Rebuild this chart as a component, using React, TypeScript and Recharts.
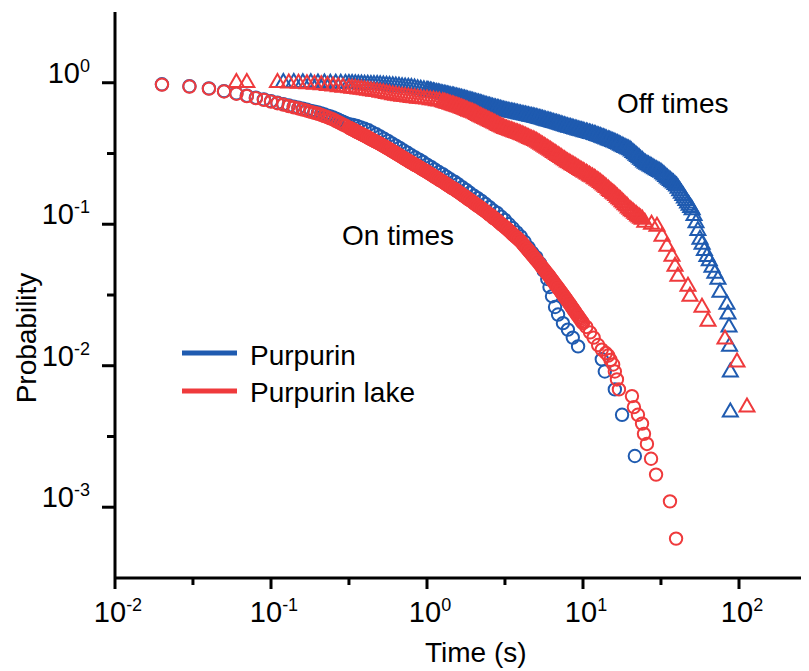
import React from 'react';
import { ScatterChart, Scatter, XAxis, YAxis, Customized } from 'recharts';

const FONT = '"Liberation Sans", Arial, Helvetica, sans-serif';
const BLUE = '#1f5bb0';
const RED = '#ef3a3c';

// [time (s), probability]
const purpurinOn: [number, number][] = [
  [0.02, 0.975], [0.03, 0.945], [0.04, 0.913], [0.05, 0.872], [0.06, 0.841], [0.07, 0.81], [0.08, 0.784],
  [0.09, 0.763], [0.1, 0.741], [0.11, 0.722], [0.12, 0.706], [0.13, 0.691], [0.14, 0.677], [0.15, 0.666],
  [0.16, 0.655], [0.17, 0.644], [0.18, 0.633], [0.19, 0.624], [0.2, 0.616], [0.21, 0.606], [0.22, 0.596],
  [0.23, 0.586], [0.24, 0.577], [0.25, 0.569], [0.26, 0.557], [0.27, 0.547], [0.28, 0.537], [0.29, 0.528],
  [0.3, 0.52], [0.316, 0.51], [0.335, 0.503], [0.355, 0.495], [0.376, 0.484], [0.398, 0.473], [0.422, 0.461],
  [0.447, 0.445], [0.473, 0.432], [0.501, 0.417], [0.531, 0.402], [0.562, 0.388], [0.596, 0.373], [0.631, 0.359],
  [0.668, 0.346], [0.708, 0.332], [0.75, 0.32], [0.794, 0.307], [0.841, 0.296], [0.891, 0.286], [0.944, 0.275],
  [1.0, 0.264], [1.06, 0.254], [1.12, 0.244], [1.19, 0.234], [1.26, 0.226], [1.33, 0.217], [1.41, 0.208],
  [1.5, 0.2], [1.58, 0.192], [1.68, 0.183], [1.78, 0.175], [1.88, 0.167], [2.0, 0.159], [2.11, 0.153],
  [2.24, 0.146], [2.37, 0.139], [2.51, 0.132], [2.66, 0.125], [2.82, 0.12], [2.99, 0.113], [3.16, 0.107],
  [3.35, 0.1], [3.55, 0.0936], [3.76, 0.0876], [3.98, 0.082], [4.22, 0.0752], [4.47, 0.0686], [4.73, 0.0629],
  [5.01, 0.0585], [5.3, 0.053], [5.6, 0.047], [5.9, 0.041], [6.1, 0.036], [6.33, 0.031], [6.62, 0.026],
  [6.92, 0.023], [7.44, 0.02], [8.0, 0.018], [8.6, 0.0158], [9.3, 0.0137], [13.2, 0.0111], [13.8, 0.0091],
  [16.0, 0.0068], [17.8, 0.0045], [21.5, 0.0023],
];

const lakeOn: [number, number][] = [
  [0.02, 0.97], [0.03, 0.94], [0.04, 0.908], [0.05, 0.867], [0.06, 0.836], [0.07, 0.805], [0.08, 0.778],
  [0.09, 0.757], [0.1, 0.735], [0.11, 0.716], [0.12, 0.7], [0.13, 0.684], [0.14, 0.67], [0.15, 0.658],
  [0.16, 0.646], [0.17, 0.634], [0.18, 0.622], [0.19, 0.612], [0.2, 0.603], [0.21, 0.592], [0.22, 0.581],
  [0.23, 0.57], [0.24, 0.56], [0.25, 0.551], [0.26, 0.538], [0.27, 0.527], [0.28, 0.516], [0.29, 0.506],
  [0.3, 0.497], [0.316, 0.481], [0.326, 0.473], [0.335, 0.466], [0.345, 0.458], [0.355, 0.45], [0.365, 0.443],
  [0.376, 0.436], [0.387, 0.429], [0.398, 0.422], [0.41, 0.415], [0.422, 0.408], [0.434, 0.401], [0.447, 0.394],
  [0.46, 0.388], [0.473, 0.382], [0.487, 0.375], [0.501, 0.369], [0.516, 0.362], [0.531, 0.356], [0.546, 0.349],
  [0.562, 0.343], [0.579, 0.337], [0.596, 0.33], [0.613, 0.324], [0.631, 0.318], [0.649, 0.312], [0.668, 0.306],
  [0.688, 0.3], [0.708, 0.294], [0.729, 0.288], [0.75, 0.283], [0.772, 0.277], [0.794, 0.272], [0.818, 0.267],
  [0.841, 0.262], [0.866, 0.258], [0.891, 0.253], [0.917, 0.248], [0.944, 0.243], [0.972, 0.239], [1.0, 0.234],
  [1.03, 0.23], [1.06, 0.225], [1.09, 0.221], [1.12, 0.216], [1.16, 0.212], [1.19, 0.207], [1.22, 0.204],
  [1.26, 0.2], [1.3, 0.195], [1.33, 0.192], [1.37, 0.188], [1.41, 0.184], [1.45, 0.18], [1.5, 0.177],
  [1.54, 0.173], [1.58, 0.17], [1.63, 0.166], [1.68, 0.162], [1.73, 0.158], [1.78, 0.155], [1.83, 0.151],
  [1.88, 0.148], [1.94, 0.145], [2.0, 0.141], [2.05, 0.138], [2.11, 0.135], [2.18, 0.132], [2.24, 0.129],
  [2.3, 0.126], [2.37, 0.123], [2.44, 0.12], [2.51, 0.117], [2.59, 0.115], [2.66, 0.111], [2.74, 0.109],
  [2.82, 0.106], [2.9, 0.103], [2.99, 0.1], [3.07, 0.098], [3.16, 0.0955], [3.26, 0.0927], [3.35, 0.0902],
  [3.45, 0.0876], [3.55, 0.0851], [3.65, 0.0826], [3.76, 0.0804], [3.87, 0.078], [3.98, 0.0759], [4.1, 0.0731],
  [4.22, 0.0703], [4.34, 0.0678], [4.47, 0.0653], [4.6, 0.063], [4.73, 0.0605], [4.87, 0.0583], [5.01, 0.0562],
  [5.16, 0.054], [5.31, 0.0519], [5.46, 0.0498], [5.62, 0.0479], [5.79, 0.0459], [5.96, 0.0442], [6.13, 0.0424],
  [6.31, 0.0407], [6.49, 0.039], [6.68, 0.0373], [6.88, 0.0358], [7.08, 0.0343], [7.29, 0.0328], [7.5, 0.0314],
  [7.72, 0.0301], [7.94, 0.0288], [8.18, 0.0275], [8.41, 0.0263], [8.66, 0.0251], [8.91, 0.024], [9.17, 0.0229],
  [9.44, 0.0219], [9.72, 0.0209], [10.0, 0.02], [10.5, 0.0188], [11.1, 0.0172], [11.7, 0.0158], [12.5, 0.014],
  [13.2, 0.013], [14.0, 0.0123], [14.5, 0.0118], [15.0, 0.011], [15.6, 0.0102], [16.0, 0.0091], [16.5, 0.008],
  [17.0, 0.0068], [20.6, 0.0061], [21.2, 0.0051], [22.5, 0.0045], [23.9, 0.0039], [24.6, 0.0033], [25.7, 0.0028],
  [27.3, 0.0022], [29.4, 0.0017], [36.1, 0.0011], [39.5, 0.0006],
];

// extra events inside the solid part of the Purpurin lake "on" band
const lakeOnDense: [number, number][] = [
  [0.321, 0.477], [0.33, 0.47], [0.34, 0.462], [0.35, 0.454], [0.36, 0.447], [0.37, 0.44], [0.381, 0.433],
  [0.392, 0.426], [0.404, 0.419], [0.416, 0.412], [0.428, 0.405], [0.44, 0.398], [0.453, 0.391], [0.466, 0.385],
  [0.48, 0.379], [0.494, 0.372], [0.508, 0.366], [0.523, 0.359], [0.538, 0.353], [0.554, 0.346], [0.57, 0.34],
  [0.587, 0.334], [0.604, 0.327], [0.622, 0.321], [0.64, 0.315], [0.658, 0.309], [0.678, 0.303], [0.698, 0.297],
  [0.718, 0.291], [0.739, 0.286], [0.761, 0.28], [0.783, 0.275], [0.806, 0.27], [0.829, 0.265], [0.853, 0.26],
  [0.878, 0.256], [0.904, 0.251], [0.93, 0.246], [0.958, 0.241], [0.986, 0.237], [1.015, 0.232], [1.045, 0.228],
  [1.075, 0.223], [1.105, 0.219], [1.14, 0.214], [1.175, 0.21], [1.205, 0.206], [1.24, 0.202], [1.28, 0.198],
  [1.315, 0.194], [1.35, 0.19], [1.39, 0.186], [1.43, 0.182], [1.475, 0.179], [1.52, 0.175], [1.56, 0.172],
  [1.605, 0.168], [1.655, 0.164], [1.705, 0.16], [1.755, 0.157], [1.805, 0.153], [1.855, 0.15], [1.91, 0.147],
  [1.97, 0.143], [2.025, 0.14], [2.08, 0.137], [2.145, 0.134], [2.21, 0.131], [2.27, 0.128], [2.335, 0.125],
  [2.405, 0.122], [2.475, 0.119], [2.55, 0.116], [2.625, 0.113], [2.7, 0.11], [2.78, 0.108], [2.86, 0.105],
  [2.945, 0.102], [3.03, 0.099], [3.115, 0.0968], [3.21, 0.0941], [3.305, 0.0915], [3.4, 0.0889], [3.5, 0.0863],
  [3.6, 0.0838], [3.705, 0.0815], [3.815, 0.0792], [3.925, 0.0769], [4.04, 0.0745], [4.16, 0.0717], [4.28, 0.069],
  [4.405, 0.0665], [4.535, 0.0641], [4.665, 0.0617], [4.8, 0.0594], [4.94, 0.0572], [5.085, 0.0551], [5.235, 0.0529],
  [5.385, 0.0508], [5.54, 0.0488], [5.705, 0.0469], [5.875, 0.045], [6.045, 0.0433], [6.22, 0.0415], [6.4, 0.0398],
  [6.585, 0.0381], [6.78, 0.0365], [6.98, 0.035], [7.185, 0.0335], [7.395, 0.0321], [7.61, 0.0307], [7.83, 0.0294],
  [8.06, 0.0281], [8.295, 0.0269], [8.535, 0.0257], [8.785, 0.0245], [9.04, 0.0234], [9.305, 0.0224], [9.58, 0.0214],
  [9.86, 0.0204],
];

const purpurinOff: [number, number][] = [
  [0.12, 1.0], [0.14, 1.0], [0.16, 0.998], [0.18, 0.996], [0.2, 0.995], [0.22, 0.993], [0.24, 0.991],
  [0.26, 0.99], [0.28, 0.988], [0.3, 0.987], [0.316, 0.986], [0.331, 0.984], [0.347, 0.982], [0.363, 0.979],
  [0.38, 0.977], [0.398, 0.975], [0.417, 0.973], [0.437, 0.971], [0.457, 0.97], [0.479, 0.968], [0.501, 0.966],
  [0.525, 0.962], [0.55, 0.959], [0.575, 0.955], [0.603, 0.951], [0.631, 0.946], [0.661, 0.942], [0.692, 0.936],
  [0.724, 0.931], [0.759, 0.927], [0.794, 0.923], [0.832, 0.914], [0.871, 0.906], [0.912, 0.897], [0.955, 0.889],
  [1.0, 0.881], [1.05, 0.871], [1.1, 0.861], [1.15, 0.851], [1.2, 0.841], [1.26, 0.832], [1.32, 0.822],
  [1.38, 0.813], [1.45, 0.804], [1.51, 0.794], [1.58, 0.785], [1.66, 0.774], [1.74, 0.764], [1.82, 0.753],
  [1.91, 0.743], [2.0, 0.733], [2.09, 0.721], [2.19, 0.711], [2.29, 0.7], [2.4, 0.69], [2.51, 0.679],
  [2.63, 0.67], [2.75, 0.661], [2.88, 0.652], [3.02, 0.643], [3.16, 0.634], [3.31, 0.627], [3.47, 0.619],
  [3.63, 0.614], [3.8, 0.607], [3.98, 0.6], [4.17, 0.593], [4.37, 0.586], [4.57, 0.579], [4.79, 0.573],
  [5.01, 0.566], [5.25, 0.558], [5.5, 0.551], [5.75, 0.542], [6.03, 0.535], [6.31, 0.527], [6.61, 0.519],
  [6.92, 0.511], [7.24, 0.504], [7.59, 0.495], [7.94, 0.488], [8.32, 0.481], [8.71, 0.474], [9.12, 0.467],
  [9.55, 0.46], [10.0, 0.454], [10.5, 0.447], [11.0, 0.44], [11.5, 0.434], [12.0, 0.427], [12.6, 0.42],
  [13.2, 0.411], [13.8, 0.404], [14.5, 0.395], [15.1, 0.388], [15.8, 0.38], [16.6, 0.371], [17.4, 0.361],
  [18.2, 0.352], [19.1, 0.344], [20.0, 0.335], [20.9, 0.321], [21.9, 0.307], [22.9, 0.294], [24.0, 0.281],
  [25.1, 0.269], [26.3, 0.261], [27.5, 0.254], [28.8, 0.246], [30.2, 0.239], [31.6, 0.232], [33.1, 0.222],
  [34.7, 0.212], [36.3, 0.203], [38.0, 0.195], [39.8, 0.186], [41.7, 0.172], [43.7, 0.159], [45.7, 0.147],
  [47.9, 0.136], [50.1, 0.126], [51.5, 0.115], [53.0, 0.102], [54.5, 0.09], [56.2, 0.078], [58.0, 0.072],
  [60.0, 0.065], [62.3, 0.059], [64.5, 0.055], [67.1, 0.0495], [70.0, 0.045], [73.3, 0.0407], [75.5, 0.033],
  [83.7, 0.0271], [85.0, 0.0231], [86.3, 0.0187], [87.0, 0.0137], [88.0, 0.009], [88.0, 0.0047],
];

const purpurinOffDense: [number, number][] = [
  [1.02, 0.876], [1.07, 0.866], [1.12, 0.856], [1.18, 0.846], [1.23, 0.836], [1.29, 0.827], [1.35, 0.817],
  [1.41, 0.808], [1.48, 0.799], [1.55, 0.79], [1.62, 0.78], [1.7, 0.769], [1.78, 0.758], [1.86, 0.748],
  [1.95, 0.738], [2.05, 0.727], [2.14, 0.716], [2.24, 0.706], [2.35, 0.695], [2.46, 0.684], [2.57, 0.675],
  [2.69, 0.665], [2.82, 0.656], [2.95, 0.647], [3.09, 0.638], [3.24, 0.63], [3.39, 0.623], [3.55, 0.616],
  [3.72, 0.61], [3.89, 0.603], [4.07, 0.596], [4.27, 0.589], [4.47, 0.582], [4.68, 0.576], [4.9, 0.569],
  [5.13, 0.562], [5.37, 0.554], [5.63, 0.546], [5.89, 0.538], [6.17, 0.531], [6.46, 0.523], [6.76, 0.515],
  [7.08, 0.507], [7.41, 0.499], [7.76, 0.491], [8.13, 0.484], [8.51, 0.477], [8.91, 0.47], [9.33, 0.463],
  [9.77, 0.457], [10.2, 0.45], [10.7, 0.443], [11.2, 0.437], [11.8, 0.43], [12.3, 0.423], [12.9, 0.415],
  [13.5, 0.407], [14.1, 0.399], [14.8, 0.391], [15.5, 0.384], [16.2, 0.375], [17.0, 0.366], [17.8, 0.356],
  [18.6, 0.348], [19.5, 0.339], [20.4, 0.328], [21.4, 0.314], [22.4, 0.3], [23.4, 0.287], [24.5, 0.275],
  [25.7, 0.265], [26.9, 0.257], [28.1, 0.25], [29.5, 0.242], [30.9, 0.235], [32.4, 0.227], [33.9, 0.217],
  [35.5, 0.207], [37.1, 0.199], [38.9, 0.19], [40.7, 0.179], [42.7, 0.165], [44.7, 0.153], [46.8, 0.141],
  [49.0, 0.131],
];

const lakeOff: [number, number][] = [
  [0.06, 1.0], [0.07, 1.0], [0.11, 1.0], [0.13, 0.993], [0.15, 0.989], [0.17, 0.982], [0.19, 0.973],
  [0.21, 0.964], [0.23, 0.953], [0.25, 0.944], [0.27, 0.935], [0.29, 0.928], [0.316, 0.918], [0.331, 0.912],
  [0.347, 0.908], [0.363, 0.902], [0.38, 0.897], [0.398, 0.891], [0.417, 0.883], [0.437, 0.877], [0.457, 0.869],
  [0.479, 0.863], [0.501, 0.855], [0.525, 0.847], [0.55, 0.838], [0.575, 0.83], [0.603, 0.82], [0.631, 0.813],
  [0.661, 0.807], [0.692, 0.802], [0.724, 0.796], [0.759, 0.791], [0.794, 0.785], [0.832, 0.782], [0.871, 0.776],
  [0.912, 0.773], [0.955, 0.767], [1.0, 0.764], [1.05, 0.757], [1.1, 0.752], [1.15, 0.745], [1.2, 0.74],
  [1.26, 0.733], [1.32, 0.721], [1.38, 0.71], [1.45, 0.698], [1.51, 0.687], [1.58, 0.676], [1.66, 0.662],
  [1.74, 0.649], [1.82, 0.635], [1.91, 0.622], [2.0, 0.61], [2.09, 0.594], [2.19, 0.579], [2.29, 0.565],
  [2.4, 0.551], [2.51, 0.537], [2.63, 0.524], [2.75, 0.511], [2.88, 0.498], [3.02, 0.485], [3.16, 0.473],
  [3.31, 0.465], [3.47, 0.456], [3.63, 0.448], [3.8, 0.44], [3.98, 0.432], [4.17, 0.422], [4.37, 0.412],
  [4.57, 0.403], [4.79, 0.394], [5.01, 0.385], [5.25, 0.372], [5.5, 0.361], [5.75, 0.349], [6.03, 0.338],
  [6.31, 0.327], [6.61, 0.316], [6.92, 0.305], [7.24, 0.295], [7.59, 0.285], [7.94, 0.275], [8.32, 0.267],
  [8.71, 0.259], [9.12, 0.251], [9.55, 0.243], [10.0, 0.236], [10.5, 0.229], [11.0, 0.221], [11.5, 0.215],
  [12.0, 0.208], [12.6, 0.201], [13.2, 0.193], [13.8, 0.185], [14.5, 0.177], [15.1, 0.17], [15.8, 0.163],
  [16.6, 0.155], [17.4, 0.148], [18.2, 0.141], [19.1, 0.134], [20.0, 0.127], [20.9, 0.122], [21.9, 0.117],
  [22.9, 0.112], [24.0, 0.108], [24.9, 0.103], [27.5, 0.0998], [29.8, 0.0964], [32.1, 0.0819], [34.5, 0.0696],
  [37.2, 0.0592], [38.9, 0.0503], [40.6, 0.0428], [47.1, 0.0363], [48.5, 0.0309], [57.9, 0.0258], [63.3, 0.0206],
  [81.3, 0.0154], [97.1, 0.0106], [112.5, 0.0051],
];

const lakeOffDense: [number, number][] = [
  [1.29, 0.727], [1.35, 0.715], [1.41, 0.704], [1.48, 0.692], [1.55, 0.681], [1.62, 0.669], [1.7, 0.655],
  [1.78, 0.642], [1.86, 0.628], [1.95, 0.616], [2.05, 0.602], [2.14, 0.586], [2.24, 0.572], [2.35, 0.558],
  [2.46, 0.544], [2.57, 0.53], [2.69, 0.517], [2.82, 0.504], [2.95, 0.491], [3.09, 0.479], [3.24, 0.469],
  [3.39, 0.46], [3.55, 0.452], [3.72, 0.444], [3.89, 0.436], [4.07, 0.427], [4.27, 0.417], [4.47, 0.407],
  [4.68, 0.398], [4.9, 0.389], [5.13, 0.378], [5.37, 0.366], [5.63, 0.355], [5.89, 0.343], [6.17, 0.332],
  [6.46, 0.321], [6.76, 0.31], [7.08, 0.3], [7.41, 0.29], [7.76, 0.28], [8.13, 0.271], [8.51, 0.263],
  [8.91, 0.255], [9.33, 0.247], [9.77, 0.239], [10.2, 0.232], [10.7, 0.225], [11.2, 0.218], [11.8, 0.211],
  [12.3, 0.204], [12.9, 0.197], [13.5, 0.189], [14.1, 0.181], [14.8, 0.173], [15.5, 0.166], [16.2, 0.159],
  [17.0, 0.151], [17.8, 0.144], [18.6, 0.137], [19.5, 0.13], [20.4, 0.124], [21.4, 0.119], [22.4, 0.114],
  [23.4, 0.11],
];

const xMajor = [0.01, 0.1, 1, 10, 100];
const xExp = ['-2', '-1', '0', '1', '2'];
const xMinor = [0.0316, 0.316, 3.16, 31.6];
const yMajor = [0.001, 0.01, 0.1, 1];
const yExp = ['-3', '-2', '-1', '0'];
const yMinor = [0.00316, 0.0316, 0.316];

const toPoints = (...groups: [number, number][][]) =>
  groups.flat().map(([t, p]) => ({ t, p }));

const XTick = (props: any) => {
  const { x, y, payload } = props;
  const i = xMajor.indexOf(payload.value);
  if (i < 0) {
    return <line x1={x} y1={y} x2={x} y2={y + 7} stroke="#000" strokeWidth={3} />;
  }
  return (
    <g>
      <line x1={x} y1={y} x2={x} y2={y + 11} stroke="#000" strokeWidth={3} />
      <text x={x + 3} y={y + 44} textAnchor="middle" fontFamily={FONT} fontSize={29} fill="#000">
        10<tspan dy={-11} fontSize={18}>{xExp[i]}</tspan>
      </text>
    </g>
  );
};

const YTick = (props: any) => {
  const { x, y, payload } = props;
  const i = yMajor.indexOf(payload.value);
  if (i < 0) {
    return <line x1={x - 8} y1={y} x2={x} y2={y} stroke="#000" strokeWidth={3} />;
  }
  return (
    <g>
      <line x1={x - 13} y1={y} x2={x} y2={y} stroke="#000" strokeWidth={3} />
      <text x={x - 25} y={y} textAnchor="end" fontFamily={FONT} fontSize={29} fill="#000">
        10<tspan dy={-11} fontSize={18}>{yExp[i]}</tspan>
      </text>
    </g>
  );
};

const ring = (color: string) => (props: any) => (
  <circle cx={props.cx} cy={props.cy} r={6.2} fill="none" stroke={color} strokeWidth={2} />
);

const triangle = (color: string) => (props: any) => {
  const { cx, cy } = props;
  const s = 15;
  const h = s * 0.866;
  const pts = `${cx},${cy - (2 * h) / 3} ${cx - s / 2},${cy + h / 3} ${cx + s / 2},${cy + h / 3}`;
  return <polygon points={pts} fill="none" stroke={color} strokeWidth={2} />;
};

const Overlay = () => (
  <g fontFamily={FONT} fill="#000">
    <text x={417} y={654} fontSize={28}>Time (s)</text>
    <text x={28} y={330} fontSize={28} textAnchor="middle" transform="rotate(-90, 28, 330)">
      Probability
    </text>
    <text x={334} y={237} fontSize={28}>On times</text>
    <text x={609} y={105} fontSize={28}>Off times</text>
    <line x1={174} y1={345} x2={229} y2={345} stroke={BLUE} strokeWidth={5} />
    <text x={242} y={357} fontSize={28}>Purpurin</text>
    <line x1={174} y1={383} x2={229} y2={383} stroke={RED} strokeWidth={5} />
    <text x={242} y={394} fontSize={28}>Purpurin lake</text>
  </g>
);

export default function App() {
  return (
    <ScatterChart width={801} height={660} margin={{ top: 4, right: 0, bottom: 0, left: 0 }}>
      <XAxis
        type="number"
        dataKey="t"
        scale="log"
        domain={[0.01, 281]}
        allowDataOverflow
        ticks={[...xMajor, ...xMinor]}
        interval={0}
        height={90}
        tickSize={0}
        tickMargin={0}
        tickLine={false}
        tick={<XTick />}
        axisLine={{ stroke: '#000', strokeWidth: 3 }}
      />
      <YAxis
        type="number"
        dataKey="p"
        scale="log"
        domain={[0.000316, 3.162]}
        allowDataOverflow
        ticks={[...yMajor, ...yMinor]}
        interval={0}
        width={107}
        tickSize={0}
        tickMargin={0}
        tickLine={false}
        tick={<YTick />}
        axisLine={{ stroke: '#000', strokeWidth: 3 }}
      />
      <Scatter data={toPoints(purpurinOn)} shape={ring(BLUE)} isAnimationActive={false} />
      <Scatter data={toPoints(purpurinOff, purpurinOffDense)} shape={triangle(BLUE)} isAnimationActive={false} />
      <Scatter data={toPoints(lakeOn, lakeOnDense)} shape={ring(RED)} isAnimationActive={false} />
      <Scatter data={toPoints(lakeOff, lakeOffDense)} shape={triangle(RED)} isAnimationActive={false} />
      <Customized component={Overlay} />
    </ScatterChart>
  );
}
